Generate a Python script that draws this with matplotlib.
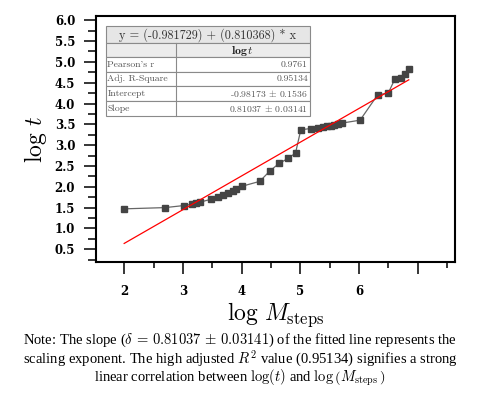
import matplotlib
matplotlib.use("Agg")
import matplotlib.pyplot as plt
from matplotlib.patches import Rectangle
from matplotlib.ticker import MultipleLocator

plt.rcParams['mathtext.fontset'] = 'cm'

# data
log_m = [2.00, 2.70, 3.02, 3.15, 3.22, 3.29, 3.48, 3.60, 3.69, 3.77, 3.85, 3.91, 4.00,
         4.31, 4.49, 4.64, 4.79, 4.92, 5.01, 5.18, 5.30, 5.38, 5.45, 5.52, 5.58, 5.65,
         5.71, 6.02, 6.32, 6.50, 6.61, 6.71, 6.78, 6.85]
log_t = [1.47, 1.50, 1.55, 1.58, 1.61, 1.63, 1.70, 1.75, 1.80, 1.85, 1.90, 1.94, 2.01,
         2.13, 2.39, 2.56, 2.68, 2.81, 3.37, 3.40, 3.41, 3.43, 3.45, 3.47, 3.49, 3.51,
         3.53, 3.60, 4.21, 4.25, 4.58, 4.61, 4.70, 4.84]
intercept = -0.981729
slope = 0.810368
fit_x = [2.0, 6.85]
x_ticks = [2, 3, 4, 5, 6, 7]
x_ticklabels = ['2', '3', '4', '5', '6', '']
y_ticks = [0.5, 1.0, 1.5, 2.0, 2.5, 3.0, 3.5, 4.0, 4.5, 5.0, 5.5, 6.0]
table_title = "y = (-0.981729) + (0.810368) * x"
row_labels = ["Pearson's r", "Adj. R-Square", "Intercept", "Slope"]
row_values = ["0.9761", "0.95134", r"-0.98173 $\pm$ 0.1536", r"0.81037 $\pm$ 0.03141"]

fig = plt.figure(figsize=(4.8, 3.93), dpi=100)
ax = fig.add_axes([0.2, 0.333, 0.747, 0.626])

ax.plot(log_m, log_t, color='#666666', lw=0.9, marker='s', markersize=5,
        markerfacecolor='#444444', markeredgecolor='#444444', zorder=3)
ax.plot(fit_x, [intercept + slope * v for v in fit_x], color='#ff0000', lw=0.9, zorder=4)

ax.set_xlim(1.52, 7.63)
ax.set_ylim(0.19, 6.1)
ax.set_xticks(x_ticks)
ax.set_xticklabels(x_ticklabels)
ax.set_yticks(y_ticks)
ax.set_yticklabels(['%.1f' % v for v in y_ticks])
for lab in ax.get_xticklabels() + ax.get_yticklabels():
    lab.set_family('DejaVu Serif')
    lab.set_fontweight('bold')
    lab.set_fontsize(8.5)
ax.xaxis.set_minor_locator(MultipleLocator(0.5))
ax.yaxis.set_minor_locator(MultipleLocator(0.25))
ax.tick_params(axis='x', which='major', length=8.5, width=1.1, pad=8)
ax.tick_params(axis='x', which='minor', length=4, width=1.1)
ax.tick_params(axis='y', which='major', length=9, width=1.1, pad=6)
ax.tick_params(axis='y', which='minor', length=5.5, width=1.1)
for sp in ax.spines.values():
    sp.set_linewidth(1.5)

ax.set_xlabel(r'$\log\, M_{\mathrm{steps}}$', fontsize=17, labelpad=2)
ax.set_ylabel(r'$\log\, t$', fontsize=17, labelpad=4)

# table
tl, tr = 0.028, 0.597
col = 0.222
rows_y = [0.959, 0.890, 0.833, 0.772, 0.715, 0.654, 0.593]
border = '#8a8a8a'
ax.add_patch(Rectangle((tl, rows_y[1]), tr - tl, rows_y[0] - rows_y[1], transform=ax.transAxes,
                       facecolor='#e6e6e6', edgecolor=border, lw=0.8, zorder=5))
ax.add_patch(Rectangle((tl, rows_y[2]), tr - tl, rows_y[1] - rows_y[2], transform=ax.transAxes,
                       facecolor='#ececec', edgecolor=border, lw=0.8, zorder=5))
for i in range(2, 6):
    ax.add_patch(Rectangle((tl, rows_y[i + 1]), tr - tl, rows_y[i] - rows_y[i + 1],
                           transform=ax.transAxes, facecolor='white', edgecolor=border,
                           lw=0.8, zorder=5))
ax.plot([col, col], [rows_y[1], rows_y[6]], transform=ax.transAxes, color=border, lw=0.8, zorder=6)
ax.text((tl + tr) / 2, (rows_y[0] + rows_y[1]) / 2, table_title, transform=ax.transAxes,
        ha='center', va='center', family='cmr10', fontsize=8.8, color='#333333', zorder=7)
ax.text((col + tr) / 2, (rows_y[1] + rows_y[2]) / 2 - 0.003, r'$\mathbf{log}\,t$', transform=ax.transAxes,
        ha='center', va='center', fontsize=8.5, color='#222222', zorder=7)
for i, (lab, val) in enumerate(zip(row_labels, row_values)):
    yc = (rows_y[i + 2] + rows_y[i + 3]) / 2
    ax.text(tl + 0.004, yc, lab, transform=ax.transAxes, ha='left', va='center',
            family='cmr10', fontsize=7, color='#555555', zorder=7)
    ax.text(tr - 0.006, yc, val, transform=ax.transAxes, ha='right', va='center',
            family='cmr10', fontsize=7, color='#555555', zorder=7)

# caption
cap = [r"Note: The slope ($\delta\,=\,0.81037 \,\pm\, 0.03141$) of the fitted line represents the",
       r"scaling exponent. The high adjusted $R^2$ value (0.95134) signifies a strong",
       r"linear correlation between $\log(t)$ and $\log\left(M_{\mathrm{steps}}\,\right)$"]
for i, line in enumerate(cap):
    fig.text(0.5, 1 - (340.5 + 18.7 * i) / 393, line, ha='center', va='center',
             family='Liberation Serif', fontsize=10.5, color='black')

fig.savefig('out.png', dpi=100)
